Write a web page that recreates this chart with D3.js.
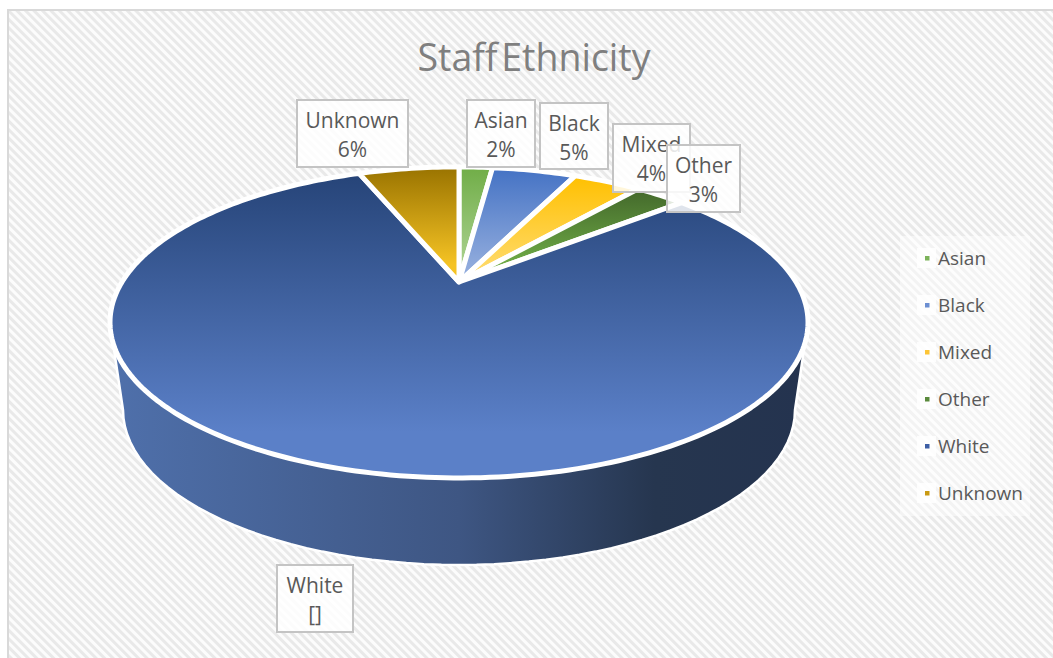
<!DOCTYPE html>
<html>
<head>
<meta charset="utf-8">
<script src="https://cdn.jsdelivr.net/npm/d3@7"></script>
<style>
  html, body { margin: 0; padding: 0; background: #fff; }
  svg { display: block; }
  text { font-family: "Open Sans", "Noto Sans", sans-serif; }
</style>
</head>
<body>
<svg id="chart" width="1053" height="658"></svg>
<script>
// Staff ethnicity shares, in percent
const categories = ["Asian", "Black", "Mixed", "Other", "White", "Unknown"];
const shares = [2, 5, 4, 3, 80, 6];
const labelValues = ["2%", "5%", "4%", "3%", "[]", "6%"];
const chartTitle = "Staff Ethnicity";

// Slice appearance: darker at the far rim, lighter towards the front
const topColors = ["#70ad47", "#4472c4", "#ffc000", "#43682b", "#264478", "#997300"];
const bottomColors = ["#a9d18e", "#8faadc", "#ffd966", "#70ad47", "#5b80c8", "#f5c324"];
const legendColors = ["#7cb35a", "#6c8fd2", "#fdc536", "#5a8a3c", "#3d5fa5", "#c99a12"];

// Data label boxes as [left, top, right, bottom]
const labelBoxes = {
  Asian: [467, 100, 535, 167],
  Black: [540, 103, 608, 169],
  Mixed: [613, 124, 690, 192],
  Other: [667, 145, 740, 212],
  White: [277, 565, 353, 632],
  Unknown: [297, 100, 408, 167]
};

const svg = d3.select("#chart");
const defs = svg.append("defs");

// Diagonal hatch behind the plot
const hatch = defs.append("pattern")
  .attr("id", "hatch").attr("patternUnits", "userSpaceOnUse")
  .attr("width", 6).attr("height", 6)
  .attr("patternTransform", "rotate(45)");
hatch.append("rect").attr("width", 6).attr("height", 6).attr("fill", "#fcfcfc");
hatch.append("rect").attr("width", 6).attr("height", 3).attr("fill", "#e9e9e9");

svg.append("rect").attr("width", 1053).attr("height", 658).attr("fill", "#fff");
svg.append("rect")
  .attr("x", 8).attr("y", 10).attr("width", 1060).attr("height", 670)
  .attr("fill", "url(#hatch)").attr("stroke", "#d9d9d9").attr("stroke-width", 2);

// Perspective view of the pie's top face
const apex = { x: 459, y: 282 };
const persp = 0.26, spanX = 337, spanY = 145;
const project = (angle, r = 1) => {
  const s = r * Math.sin(angle), c = r * Math.cos(angle), w = 1 + persp * c;
  return [apex.x + spanX * s / w, apex.y - spanY * c / w];
};

// Rim of the base, a little narrower than the top face
const base = { x: 459, y: 410, rx: 336, ry: 155 };
const baseRim = angle => [base.x + base.rx * Math.sin(angle), base.y - base.ry * Math.cos(angle)];

const line = d3.line();

// Cylinder wall, joined to the top face where its outline is widest
const sideGrad = defs.append("linearGradient")
  .attr("id", "sideGrad").attr("gradientUnits", "userSpaceOnUse")
  .attr("x1", 110).attr("x2", 808).attr("y1", 0).attr("y2", 0);
sideGrad.append("stop").attr("offset", 0).attr("stop-color", "#4f70ab");
sideGrad.append("stop").attr("offset", 0.5).attr("stop-color", "#3e5683");
sideGrad.append("stop").attr("offset", 0.78).attr("stop-color", "#26364f");
sideGrad.append("stop").attr("offset", 1).attr("stop-color", "#24334f");

const widest = Math.PI / 2 + Math.asin(persp);
const wallAngles = d3.range(270, 89, -3).map(d => d * Math.PI / 180);
const wallPoints = [project(-widest)]
  .concat(wallAngles.map(baseRim))
  .concat([project(widest)]);
svg.append("path")
  .attr("d", line(wallPoints) + "Z")
  .attr("fill", "url(#sideGrad)")
  .attr("stroke", "#fff").attr("stroke-width", 2.5);

// Top face slices
const arcs = d3.pie().sort(null).value(d => d)(shares);
const slicePath = a => {
  const steps = Math.max(2, Math.ceil((a.endAngle - a.startAngle) / 0.02));
  const rim = d3.range(steps + 1).map(i =>
    project(d3.interpolateNumber(a.startAngle, a.endAngle)(i / steps)));
  return line([[apex.x, apex.y], ...rim]) + "Z";
};

arcs.forEach((a, i) => {
  const grad = defs.append("linearGradient")
    .attr("id", "slice" + i)
    .attr("x1", 0).attr("y1", 0).attr("x2", 0).attr("y2", 1);
  grad.append("stop").attr("offset", 0).attr("stop-color", topColors[i]);
  grad.append("stop").attr("offset", 0.85).attr("stop-color", bottomColors[i]);
});

svg.append("g").selectAll("path").data(arcs).join("path")
  .attr("d", slicePath)
  .attr("fill", (d, i) => `url(#slice${i})`)
  .attr("stroke", "#fff").attr("stroke-width", 5).attr("stroke-linejoin", "round");

// Chart title
svg.append("text")
  .attr("x", 534).attr("y", 71).attr("text-anchor", "middle")
  .attr("font-size", 37.5).attr("fill", "#7f7f7f").attr("word-spacing", -6)
  .text(chartTitle);

// Data labels, each with its name and value on two lines
const labels = svg.append("g").selectAll("g").data(categories).join("g");
labels.append("rect")
  .attr("x", d => labelBoxes[d][0]).attr("y", d => labelBoxes[d][1])
  .attr("width", d => labelBoxes[d][2] - labelBoxes[d][0])
  .attr("height", d => labelBoxes[d][3] - labelBoxes[d][1])
  .attr("fill", "#fff").attr("fill-opacity", 0.85)
  .attr("stroke", "#c4c4c4").attr("stroke-width", 2);
labels.append("text")
  .attr("x", d => (labelBoxes[d][0] + labelBoxes[d][2]) / 2)
  .attr("y", d => labelBoxes[d][1] + 28)
  .attr("text-anchor", "middle").attr("font-size", 21).attr("fill", "#595959")
  .text(d => d);
labels.append("text")
  .attr("x", d => (labelBoxes[d][0] + labelBoxes[d][2]) / 2)
  .attr("y", d => labelBoxes[d][1] + 57)
  .attr("text-anchor", "middle").attr("font-size", 21).attr("fill", "#595959")
  .text((d, i) => labelValues[i]);

// Legend
const legendY = d3.scalePoint().domain(categories).range([258, 493]);
svg.append("rect")
  .attr("x", 900).attr("y", 236).attr("width", 130).attr("height", 280)
  .attr("fill", "#fff").attr("fill-opacity", 0.45);
const legend = svg.append("g").selectAll("g").data(categories).join("g")
  .attr("transform", d => `translate(0,${legendY(d)})`);
legend.append("rect")
  .attr("x", 917).attr("y", -10).attr("width", 19).attr("height", 20)
  .attr("fill", "#fff").attr("fill-opacity", 0.8);
legend.append("rect")
  .attr("x", 925).attr("y", -2).attr("width", 4.5).attr("height", 4.5)
  .attr("fill", (d, i) => legendColors[i]);
legend.append("text")
  .attr("x", 938).attr("y", 6.5)
  .attr("font-size", 19).attr("fill", "#595959")
  .text(d => d);
</script>
</body>
</html>
